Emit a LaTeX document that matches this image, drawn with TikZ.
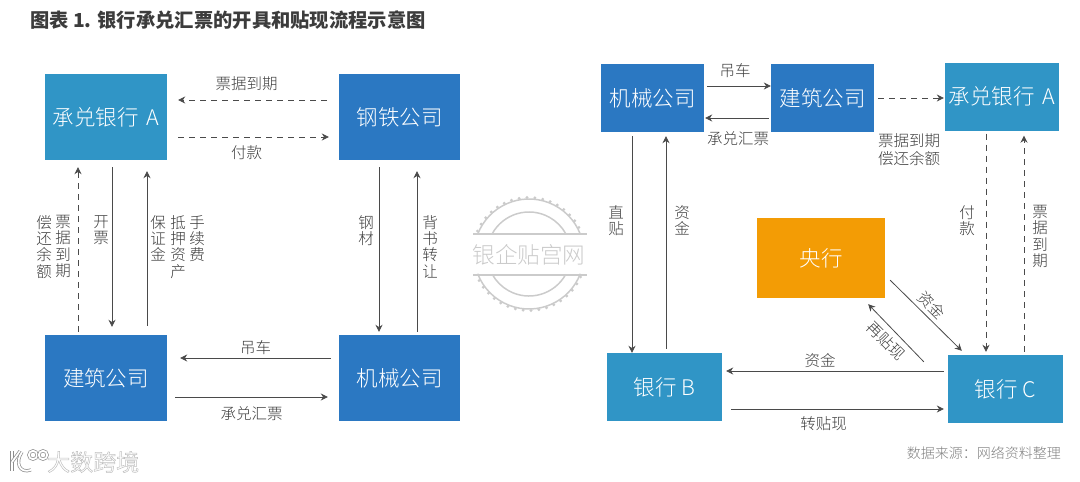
\documentclass[tikz,border=0pt]{standalone}
\usepackage{fontspec}
\setmainfont{Noto Sans CJK SC}
\newfontfamily\thinfont{Noto Sans CJK SC Light}
\usepackage{tikz}
\usetikzlibrary{arrows.meta,positioning}
\definecolor{corpblue}{HTML}{2B78C2}
\definecolor{bankblue}{HTML}{3095C6}
\definecolor{pboc}{HTML}{F39C05}
\definecolor{linegray}{HTML}{4A4A4A}
\definecolor{labelgray}{HTML}{3C3C3C}
\definecolor{stampgray}{HTML}{CBCBCB}

\begin{document}
\begin{tikzpicture}[x=1pt,y=-1pt,
    box/.style={rectangle,text=white,inner sep=0pt,font=\thinfont\fontsize{21.5}{24}\selectfont},
    corp/.style={box,fill=corpblue,minimum width=#1,minimum height=68pt},
    bank/.style={box,fill=bankblue,minimum width=#1,minimum height=68pt},
    lbl/.style={text=labelgray,inner sep=0pt,align=center,font=\thinfont\fontsize{15.5}{16.3}\selectfont},
    vlbl/.style={lbl,anchor=north},
    flow/.style={->,>={Stealth[length=7pt,width=7pt]},linegray,line width=0.8pt},
    dflow/.style={flow,dash pattern=on 6pt off 5pt},
    stamp/.style={stampgray,line width=1.5pt},
    logoline/.style={white,line width=1.8pt,preaction={draw,stampgray!70!black,line width=3.2pt}}]
    \useasboundingbox (0,0) rectangle (1080,482);
    \node[anchor=west,inner sep=0pt,text=labelgray,font=\fontsize{19.3}{22}\selectfont\bfseries] (title) at (30,20) {图表 1. 银行承兑汇票的开具和贴现流程示意图};

    \node[bank=122pt,minimum height=86pt] (bankA) at (106,117) {承兑银行 \kern3pt A};
    \node[corp=121pt,minimum height=86pt] (steel) at (399.5,117) {钢铁公司};
    \node[corp=122pt,minimum height=86pt] (build) at (106,378) {建筑公司};
    \node[corp=121pt,minimum height=86pt] (mach) at (399.5,378) {机械公司};

    \draw[dflow] ([shift={(-12,-17)}]steel.west) -- ([shift={(11,-17)}]bankA.east) node[midway,above=9pt,xshift=-6pt,lbl] (lblDue) {票据到期};
    \draw[dflow] ([shift={(11,20)}]bankA.east) -- ([shift={(-10,20)}]steel.west) node[midway,below=8pt,xshift=-7pt,lbl] (lblPay) {付款};
    \draw[dflow] ([shift={(-28,-3)}]build.north) -- ([shift={(-28,7)}]bankA.south);
    \draw[flow] ([shift={(6,7)}]bankA.south) -- ([shift={(6,-8)}]build.north);
    \draw[flow] ([shift={(41,-9)}]build.north) -- ([shift={(41,11)}]bankA.south);
    \draw[flow] ([shift={(-20.5,7)}]steel.south) -- ([shift={(-20.5,-3)}]mach.north);
    \draw[flow] ([shift={(17.5,-3)}]mach.north) -- ([shift={(17.5,11)}]steel.south);
    \draw[flow] ([shift={(-8,-20)}]mach.west) -- ([shift={(13,-20)}]build.east) node[midway,above=3pt,lbl] (lblCrane) {吊车};
    \draw[flow] ([shift={(8,19)}]build.east) -- ([shift={(-11,19)}]mach.west) node[midway,below=9pt,lbl] (lblBill) {承兑汇票};

    \node[vlbl] (lblRepay) at (44,215) {偿\\还\\余\\额};
    \node[vlbl] (lblDueV) at (63,215) {票\\据\\到\\期};
    \node[vlbl] (lblIssue) at (101,215) {开\\票};
    \node[vlbl] (lblDeposit) at (158,215) {保\\证\\金};
    \node[vlbl] (lblAsset) at (178,215) {抵\\押\\资\\产};
    \node[vlbl] (lblFee) at (197,215) {手\\续\\费};
    \node[vlbl] (lblIron) at (366,215) {钢\\材};
    \node[vlbl] (lblEndorse) at (430,215) {背\\书\\转\\让};

    \node[corp=103pt] (machR) at (652.5,98) {机械公司};
    \node[corp=103pt] (buildR) at (822.5,98) {建筑公司};
    \node[bank=114pt] (bankAR) at (1002,96.5) {承兑银行 \kern3pt A};
    \node[box,fill=pboc,minimum width=128pt,minimum height=80pt] (central) at (821,258) {\raisebox{-3pt}{央行}};
    \node[bank=115pt] (bankB) at (664.5,387) {银行 B};
    \node[bank=115pt] (bankC) at (1005.5,389) {银行 C};

    \draw[flow] ([shift={(3,-12)}]machR.east) -- ([shift={(0,-12)}]buildR.west) node[midway,above=8pt,xshift=-4pt,lbl] (lblCraneR) {吊车};
    \draw[flow] ([shift={(-2,20)}]buildR.west) -- ([shift={(1,20)}]machR.east) node[midway,below=13pt,xshift=1pt,lbl] (lblBillR) {承兑汇票};
    \draw[dflow] ([shift={(4,0)}]buildR.east) -- ([shift={(-1,1.5)}]bankAR.west);
    \draw[flow] ([shift={(-20.5,4)}]machR.south) -- ([shift={(-32.5,0)}]bankB.north);
    \draw[flow] ([shift={(1.5,-4)}]bankB.north) -- ([shift={(13.5,4)}]machR.south);
    \draw[dflow] ([shift={(-16,3)}]bankAR.south) -- ([shift={(-19.5,-3)}]bankC.north);
    \draw[dflow] ([shift={(18.5,-3)}]bankC.north) -- ([shift={(22,5)}]bankAR.south);
    \draw[flow] ([shift={(5,-18)}]central.south east) -- ([shift={(14,-4)}]bankC.north west) node[midway,lbl,rotate=-45,xshift=-3.2pt,yshift=11.7pt] (lblFund) {资金};
    \draw[flow] ([shift={(-24,7)}]bankC.north west) -- ([shift={(-17,6)}]central.south east) node[midway,lbl,rotate=-45,xshift=-1.4pt,yshift=-12.7pt] (lblRedisc) {再贴现};
    \draw[flow] ([shift={(-4,-18)}]bankC.west) -- ([shift={(4,-16)}]bankB.east) node[midway,above=3pt,xshift=-15pt,lbl] (lblFundH) {资金};
    \draw[flow] ([shift={(9,22)}]bankB.east) -- ([shift={(-4,20)}]bankC.west) node[midway,below=7pt,xshift=-14pt,lbl] (lblTrans) {转贴现};

    \node[lbl] (lblDueR) at (909,150) {票据到期\\[1.5pt]偿还余额};
    \node[vlbl] (lblDirect) at (616,205) {直\\贴};
    \node[vlbl] (lblFundV) at (682,205) {资\\金};
    \node[vlbl] (lblPayV) at (967,205) {付\\款};
    \node[vlbl] (lblDueW) at (1040,205) {票\\据\\到\\期};
    \node[anchor=east,inner sep=0pt,text=gray,font=\thinfont\fontsize{14}{16}\selectfont] (source) at (1061,453) {数据来源：网络资料整理};

    \coordinate (stampC) at (529,254);
    \draw[stamp] ([shift={(21:55)}]stampC) arc (21:159:55);
    \draw[stamp] ([shift={(201:55)}]stampC) arc (201:339:55);
    \draw[stamp] ([shift={(29:42)}]stampC) arc (29:151:42);
    \draw[stamp] ([shift={(209:42)}]stampC) arc (209:331:42);
    \foreach \a in {24,32,...,156,204,212,...,336}
        \fill[stampgray] (stampC) ++(\a:56.5) circle (1.6pt);
    \draw[stamp] (473,234) -- (587,234);
    \draw[stamp] (473,275) -- (587,275);
    \node[inner sep=0pt,text=stampgray,font=\thinfont\fontsize{22.6}{24}\selectfont] (stampT) at (529,254.5) {银企贴宫网};

    \draw[logoline] (12,451) -- (12,471);
    \draw[logoline] (12,462) -- (20,451);
    \draw[logoline] (22,452) .. controls (15,462) and (19,474) .. (31,470);
    \draw[logoline] (33,455) circle (4.2pt);
    \draw[logoline] (43,455) circle (4.2pt);
    \node[anchor=west,inner sep=0pt,text=white,font=\fontsize{23}{26}\selectfont] (logo) at (47,462) {\special{pdf:code 2 Tr 0.5 w 0.75 G}大数跨境\special{pdf:code 0 Tr}};
\end{tikzpicture}
\end{document}
